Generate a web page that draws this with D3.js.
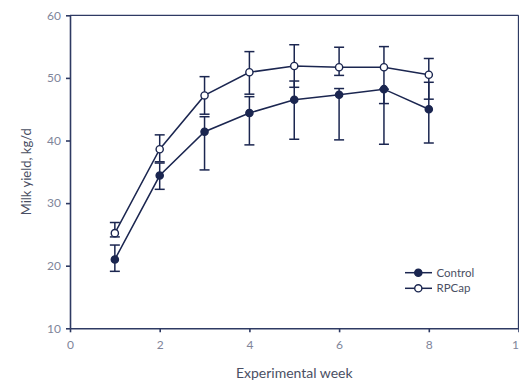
<!DOCTYPE html>
<html>
<head>
<meta charset="utf-8">
<script src="https://cdnjs.cloudflare.com/ajax/libs/d3/7.8.5/d3.min.js"></script>
<style>
  html, body { margin: 0; padding: 0; background: #fff; }
  svg { display: block; }
  text { font-family: Lato, "Open Sans", sans-serif; }
</style>
</head>
<body>
<div id="chart"></div>
<script>
// ---- data ----
const weeks = [1, 2, 3, 4, 5, 6, 7, 8];
const controlMean = [21.0, 34.4, 41.4, 44.4, 46.5, 47.3, 48.2, 45.0];
const controlLow  = [19.1, 32.2, 35.3, 39.3, 40.2, 40.1, 39.4, 39.6];
const controlHigh = [23.3, 36.4, 43.8, 47.0, 49.5, 48.3, 48.2, 49.3];
const rpcapMean   = [25.2, 38.6, 47.2, 50.9, 51.9, 51.7, 51.7, 50.5];
const rpcapLow    = [24.6, 36.6, 44.2, 47.4, 48.5, 50.4, 45.9, 46.6];
const rpcapHigh   = [26.9, 40.9, 50.2, 54.2, 55.3, 54.9, 55.0, 53.1];
const xTicks = [0, 2, 4, 6, 8, 10];
const yTicks = [10, 20, 30, 40, 50, 60];
const seriesNames = ["Control", "RPCap"];

// ---- layout ----
const W = 519, H = 383;
const mLeft = 70, mRight = 518.5, mTop = 15.3, mBottom = 328.3;
const navy = "#1b2650";
const axisCol = "#2e3a63";
const tickTextCol = "#80859a";
const titleCol = "#4a4f63";

const svg = d3.select("#chart").append("svg").attr("width", W).attr("height", H);

const x = d3.scaleLinear().domain([0, 10]).range([mLeft, mRight]);
const y = d3.scaleLinear().domain([10, 60]).range([mBottom, mTop]);

// frame top & right
svg.append("line").attr("x1", mLeft).attr("x2", mRight).attr("y1", mTop).attr("y2", mTop)
  .attr("stroke", axisCol).attr("stroke-width", 1.3);
svg.append("line").attr("x1", mRight).attr("x2", mRight).attr("y1", mTop).attr("y2", mBottom)
  .attr("stroke", axisCol).attr("stroke-width", 1.3);

// axes
const xAxis = svg.append("g").attr("transform", `translate(0,${mBottom})`)
  .call(d3.axisBottom(x).tickValues(xTicks).tickSize(4).tickPadding(8).tickSizeOuter(0));
const yAxis = svg.append("g").attr("transform", `translate(${mLeft},0)`)
  .call(d3.axisLeft(y).tickValues(yTicks).tickSize(4).tickPadding(5).tickSizeOuter(0));
[xAxis, yAxis].forEach(g => {
  g.select(".domain").attr("stroke", axisCol).attr("stroke-width", 1.6);
  g.selectAll(".tick line").attr("stroke", axisCol).attr("stroke-width", 1.6);
  g.selectAll(".tick text").attr("fill", tickTextCol).style("font-size", "12px")
    .style("font-family", "Lato, sans-serif");
});

// axis titles
svg.append("text").attr("x", (mLeft + mRight) / 2).attr("y", 378)
  .attr("text-anchor", "middle").attr("fill", titleCol).style("font-size", "14px")
  .text("Experimental week");
svg.append("text").attr("transform", `translate(31,${(mTop + mBottom) / 2}) rotate(-90)`)
  .attr("text-anchor", "middle").attr("fill", titleCol).style("font-size", "13px")
  .text("Milk yield, kg/d");

// series
const series = [
  { name: seriesNames[0], mean: controlMean, low: controlLow, high: controlHigh, fill: navy },
  { name: seriesNames[1], mean: rpcapMean, low: rpcapLow, high: rpcapHigh, fill: "#fff" }
];

const line = d3.line().x((d, i) => x(weeks[i])).y(d => y(d));
series.forEach(s => {
  svg.append("path").datum(s.mean).attr("d", line)
    .attr("fill", "none").attr("stroke", navy).attr("stroke-width", 1.5);
});

const capW = 5;
series.forEach(s => {
  const g = svg.append("g");
  weeks.forEach((w, i) => {
    const cx = x(w);
    g.append("line").attr("x1", cx).attr("x2", cx).attr("y1", y(s.low[i])).attr("y2", y(s.high[i]))
      .attr("stroke", navy).attr("stroke-width", 1.5);
    [s.low[i], s.high[i]].forEach(v => {
      g.append("line").attr("x1", cx - capW).attr("x2", cx + capW).attr("y1", y(v)).attr("y2", y(v))
        .attr("stroke", navy).attr("stroke-width", 1.5);
    });
  });
});

series.forEach(s => {
  svg.append("g").selectAll("circle").data(s.mean).join("circle")
    .attr("cx", (d, i) => x(weeks[i])).attr("cy", d => y(d)).attr("r", 3.6)
    .attr("fill", s.fill).attr("stroke", navy).attr("stroke-width", 1.4);
});

// legend
const lg = svg.append("g");
series.forEach((s, i) => {
  const ly = 272.7 + i * 15.6;
  lg.append("line").attr("x1", 405).attr("x2", 432).attr("y1", ly).attr("y2", ly)
    .attr("stroke", navy).attr("stroke-width", 1.5);
  lg.append("circle").attr("cx", 418.3).attr("cy", ly).attr("r", 3.6)
    .attr("fill", s.fill).attr("stroke", navy).attr("stroke-width", 1.4);
  lg.append("text").attr("x", 436.5).attr("y", ly).attr("dy", "0.35em")
    .attr("fill", titleCol).style("font-size", "11.5px").text(s.name);
});
</script>
</body>
</html>
